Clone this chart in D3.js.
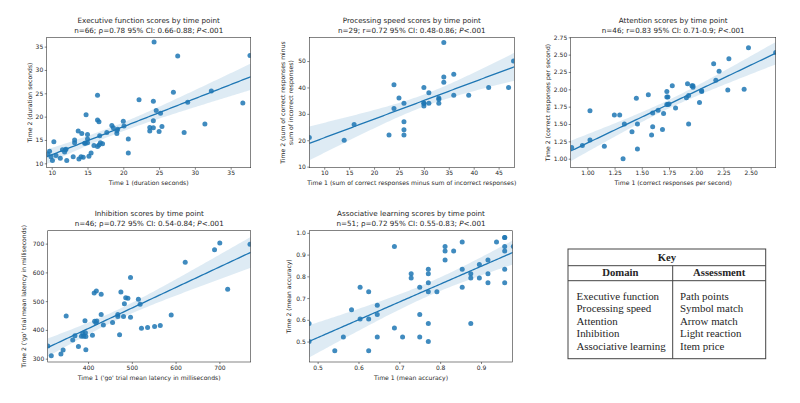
<!DOCTYPE html>
<html><head><meta charset="utf-8">
<script src="https://cdn.jsdelivr.net/npm/d3@7"></script>
<style>body{margin:0;background:#fff}svg{display:block}text{font-family:"DejaVu Sans",sans-serif;fill:#262626}</style>
</head><body><svg id="c" width="800" height="403"></svg>
<script>
// ---------- DATA ----------
const execX = [24.3,27.6,37.7,16.4,22.2,24.2,27.0,32.3,29.0,36.7,31.4,28.5,24.6,25.2,25.4,25.0,24.2,23.7,24.2,23.7,20.0,20.1,20.7,20.7,18.6,18.4,17.7,19.1,19.1,19.2,16.4,16.6,16.7,16.8,17.1,16.6,16.4,15.9,15.5,15.2,14.8,15.0,15.0,14.7,15.0,14.6,13.7,14.2,13.2,13.2,13.0,13.8,14.1,14.4,11.9,11.5,11.8,12.1,11.2,10.6,10.3,10.1,9.7,9.45,9.9,12.0];
const execY = [36.0,33.0,33.1,24.6,23.6,23.3,25.2,25.5,23.1,22.9,18.4,16.6,21.3,20.7,17.9,16.8,19.1,17.7,17.6,16.9,19.0,18.0,15.2,12.2,17.6,18.1,16.6,17.0,16.4,17.3,19.3,18.9,15.9,14.4,14.2,13.9,13.6,13.8,12.2,11.5,20.4,16.2,15.2,14.3,14.4,14.3,16.9,16.4,15.0,14.4,11.4,10.9,11.4,11.3,12.9,12.9,12.4,10.6,11.1,11.7,14.6,10.6,12.6,12.0,11.4,13.0];
const speedX = [7,14,16,23,24,24,25,26,26,26,26,30,30,30,30,31,31,33,33,33,34,34,34,36,36,39,43,47,48];
const speedY = [21,20,26,22,41,32,36,34,27,24,22,40,34,34,33,38,34,36,35.5,34,57,44,42,45,37,37,40,40,50];
const attX = [0.856,0.954,1.024,1.024,1.156,1.248,1.297,1.328,1.34,1.41,1.45,1.46,1.46,1.56,1.59,1.60,1.60,1.65,1.69,1.70,1.73,1.73,1.74,1.73,1.74,1.78,1.81,1.91,1.92,1.93,1.93,1.96,1.97,2.03,2.05,2.05,2.16,2.18,2.21,2.29,2.30,2.44,2.48,2.73,1.97,1.75];
const attY = [1.16,1.19,1.69,1.27,1.18,1.63,1.63,1.00,1.50,1.39,1.87,1.50,1.14,1.92,1.34,1.46,1.66,1.70,1.42,1.65,1.97,1.89,1.89,1.78,1.78,2.05,1.73,1.88,2.08,1.91,1.50,2.05,2.03,1.81,1.98,1.97,2.37,2.13,2.26,1.99,2.44,2.00,2.60,2.53,2.05,1.79];
const inhX = [308,316,338,343,350,365,370,378,385,388,390,393,394,395,395,410,414,415,419,418,420,430,430,435,456,468,468,475,472,483,481,486,491,497,497,515,519,522,536,552,565,590,622,689,701,719,770];
const inhY = [344,310,316,330,448,365,380,342,378,388,378,432,390,377,331,381,528,430,535,425,431,524,454,417,426,447,454,532,383,491,447,512,510,582,444,507,489,406,408,412,415,452,635,679,702,541,698];
const assocX = [0.479,0.479,0.542,0.563,0.583,0.604,0.604,0.625,0.625,0.625,0.646,0.646,0.646,0.688,0.688,0.708,0.729,0.729,0.75,0.75,0.75,0.771,0.771,0.771,0.771,0.771,0.771,0.792,0.812,0.812,0.812,0.833,0.854,0.854,0.854,0.875,0.875,0.875,0.896,0.896,0.917,0.917,0.917,0.938,0.958,0.958,0.958,0.958,0.958,0.979,0.958];
const assocY = [0.583,0.5,0.458,0.521,0.646,0.75,0.604,0.729,0.604,0.458,0.667,0.625,0.521,0.937,0.562,0.521,0.812,0.792,0.75,0.625,0.521,0.833,0.812,0.771,0.729,0.583,0.5,0.729,0.937,0.917,0.875,0.917,0.958,0.833,0.75,0.812,0.792,0.583,0.854,0.792,0.875,0.812,0.771,0.958,0.979,0.937,0.917,0.833,0.771,0.937,0.979];

const execXTicks = [10,15,20,25,30,35], execYTicks = [10,15,20,25,30,35];
const speedXTicks = [10,15,20,25,30,35,40,45], speedYTicks = [10,20,30,40,50];
const attXTicks = [1.0,1.25,1.5,1.75,2.0,2.25,2.5], attYTicks = [1.0,1.25,1.5,1.75,2.0,2.25,2.5,2.75];
const inhXTicks = [400,500,600,700], inhYTicks = [300,400,500,600,700];
const assocXTicks = [0.5,0.6,0.7,0.8,0.9], assocYTicks = [0.5,0.6,0.7,0.8,0.9,1.0];

const titles = ["Executive function scores by time point","Processing speed scores by time point","Attention scores by time point","Inhibition scores by time point","Associative learning scores by time point"];
const stats = ["n=66; ρ=0.78 95% CI: 0.66-0.88; ","n=29; r=0.72 95% CI: 0.48-0.86; ","n=46; r=0.83 95% CI: 0.71-0.9; ","n=46; ρ=0.72 95% CI: 0.54-0.84; ","n=51; ρ=0.72 95% CI: 0.55-0.83; "];
const xLabels = ["Time 1 (duration seconds)","Time 1 (sum of correct responses minus sum of incorrect responses)","Time 1 (correct responses per second)","Time 1 ('go' trial mean latency in milliseconds)","Time 1 (mean accuracy)"];
const yLabels = [["Time 2 (duration seconds)"],["Time 2 (sum of correct responses minus","sum of incorrect responses)"],["Time 2 (correct responses per second)"],["Time 2 ('go' trial mean latency in milliseconds)"],["Time 2 (mean accuracy)"]];

const keyDomains = ["Executive function","Processing speed","Attention","Inhibition","Associative learning"];
const keyAssessments = ["Path points","Symbol match","Arrow match","Light reaction","Item price"];

// ---------- LAYOUT ----------
const panels = [
  {x:execX,y:execY,xt:execXTicks,yt:execYTicks,xd:[9.3,37.8],yd:[9.06,37.0],fx:d3.format("d"),fy:d3.format("d"),l:46.7,r:250.7,t:37.3,b:167.7,yo:-16.7},
  {x:speedX,y:speedY,xt:speedXTicks,yt:speedYTicks,xd:[7,48.15],yd:[9.6,59],fx:d3.format("d"),fy:d3.format("d"),l:309.3,r:514.3,t:37.3,b:167.7,yo:-18.5},
  {x:attX,y:attY,xt:attXTicks,yt:attYTicks,xd:[0.847,2.73],yd:[0.87,2.75],fx:d3.format(".2f"),fy:d3.format(".2f"),l:570.7,r:775.7,t:37.3,b:167.7,yo:-23},
  {x:inhX,y:inhY,xt:inhXTicks,yt:inhYTicks,xd:[307.8,771.6],yd:[288.4,745],fx:d3.format("d"),fy:d3.format("d"),l:47.7,r:250.7,t:230.7,b:362,yo:-23.7},
  {x:assocX,y:assocY,xt:assocXTicks,yt:assocYTicks,xd:[0.4796,0.9776],yd:[0.406,1.01],fx:d3.format(".1f"),fy:d3.format(".1f"),l:309.3,r:512.7,t:230.7,b:362,yo:-20.3}
];
const C = "#1f77b4";
const svg = d3.select("#c");

function regress(xs, ys){
  const n = xs.length, mx = d3.mean(xs), my = d3.mean(ys);
  let sxx=0,sxy=0; for(let i=0;i<n;i++){sxx+=(xs[i]-mx)**2;sxy+=(xs[i]-mx)*(ys[i]-my);}
  const b = sxy/sxx, a = my-b*mx;
  let sse=0; for(let i=0;i<n;i++){sse+=(ys[i]-a-b*xs[i])**2;}
  const s = Math.sqrt(sse/(n-2));
  return {a,b,ci:(x)=>2.0*s*Math.sqrt(1/n+(x-mx)**2/sxx)};
}

panels.forEach((p,i)=>{
  const g = svg.append("g");
  const xs = d3.scaleLinear().domain(p.xd).range([p.l,p.r]);
  const ys = d3.scaleLinear().domain(p.yd).range([p.b,p.t]);
  const cid = "clip"+i;
  svg.append("clipPath").attr("id",cid).append("rect").attr("x",p.l).attr("y",p.t).attr("width",p.r-p.l).attr("height",p.b-p.t);
  const pg = g.append("g").attr("clip-path",`url(#${cid})`);
  const rg = regress(p.x,p.y);
  const grid = d3.range(0,101).map(k=>p.xd[0]+(p.xd[1]-p.xd[0])*k/100);
  pg.append("path").datum(grid).attr("fill",C).attr("fill-opacity",0.15)
    .attr("d",d3.area().x(d=>xs(d)).y0(d=>ys(rg.a+rg.b*d-rg.ci(d))).y1(d=>ys(rg.a+rg.b*d+rg.ci(d))));
  pg.selectAll("circle").data(p.x.map((v,k)=>[v,p.y[k]])).join("circle")
    .attr("cx",d=>xs(d[0])).attr("cy",d=>ys(d[1])).attr("r",2.5).attr("fill",C).attr("fill-opacity",0.85);
  pg.append("path").datum(grid).attr("fill","none").attr("stroke",C).attr("stroke-width",1.3)
    .attr("d",d3.line().x(d=>xs(d)).y(d=>ys(rg.a+rg.b*d)));
  const xa = g.append("g").attr("transform",`translate(0,${p.b})`).call(d3.axisBottom(xs).tickValues(p.xt).tickFormat(p.fx).tickSize(2).tickPadding(1.5));
  const ya = g.append("g").attr("transform",`translate(${p.l},0)`).call(d3.axisLeft(ys).tickValues(p.yt).tickFormat(p.fy).tickSize(2).tickPadding(1.5));
  [xa,ya].forEach(a=>{a.select(".domain").remove();a.selectAll("line").attr("stroke","#333").attr("stroke-width",0.6);a.selectAll("text").style("font-size","6px").style("font-family","DejaVu Sans").attr("fill","#262626");});
  g.append("rect").attr("x",p.l).attr("y",p.t).attr("width",p.r-p.l).attr("height",p.b-p.t).attr("fill","none").attr("stroke","#333").attr("stroke-width",0.6);
  const cx = (p.l+p.r)/2;
  g.append("text").attr("x",cx).attr("y",p.t-14.8).attr("text-anchor","middle").style("font-size","7.2px").text(titles[i]);
  const t2 = g.append("text").attr("x",cx).attr("y",p.t-4.3).attr("text-anchor","middle").style("font-size","7.2px");
  t2.append("tspan").text(stats[i]); t2.append("tspan").style("font-style","italic").text("P"); t2.append("tspan").text("<.001");
  g.append("text").attr("x",cx).attr("y",p.b+17.7).attr("text-anchor","middle").style("font-size","6.1px").text(xLabels[i]);
  const yl = yLabels[i];
  yl.forEach((s,k)=>{
    const xx = p.l + p.yo + 2 - (yl.length-1-k)*7.5;
    g.append("text").attr("transform",`translate(${xx},${(p.t+p.b)/2}) rotate(-90)`).attr("text-anchor","middle").style("font-size","6.1px").text(s);
  });
});

// ---------- KEY TABLE ----------
const kt = svg.append("g");
const L=568,R=765.7,M=672.7,T=249,r1=265.7,r2=280.7,B=358.7;
const serif = "'Liberation Serif',serif";
kt.append("rect").attr("x",L).attr("y",T).attr("width",R-L).attr("height",B-T).attr("fill","none").attr("stroke","#444").attr("stroke-width",1);
kt.append("line").attr("x1",L).attr("x2",R).attr("y1",r1).attr("y2",r1).attr("stroke","#444");
kt.append("line").attr("x1",L).attr("x2",R).attr("y1",r2).attr("y2",r2).attr("stroke","#444");
kt.append("line").attr("x1",M).attr("x2",M).attr("y1",r1).attr("y2",B).attr("stroke","#444");
kt.append("text").attr("x",(L+R)/2).attr("y",T+11.5).attr("text-anchor","middle").style("font-family",serif).style("font-weight","bold").style("font-size","10.7px").attr("fill","#111").text("Key");
kt.append("text").attr("x",(L+M)/2).attr("y",r1+10.3).attr("text-anchor","middle").style("font-family",serif).style("font-weight","bold").style("font-size","10.7px").attr("fill","#111").text("Domain");
kt.append("text").attr("x",(M+R)/2).attr("y",r1+10.3).attr("text-anchor","middle").style("font-family",serif).style("font-weight","bold").style("font-size","10.7px").attr("fill","#111").text("Assessment");
const rowY = d3.scaleLinear().domain([0,4]).range([299.5,350]);
keyDomains.forEach((d,k)=>{
  kt.append("text").attr("x",576.5).attr("y",rowY(k)).style("font-family",serif).style("font-size","10.9px").attr("fill","#111").text(d);
  kt.append("text").attr("x",680).attr("y",rowY(k)).style("font-family",serif).style("font-size","10.9px").attr("fill","#111").text(keyAssessments[k]);
});
</script></body></html>
